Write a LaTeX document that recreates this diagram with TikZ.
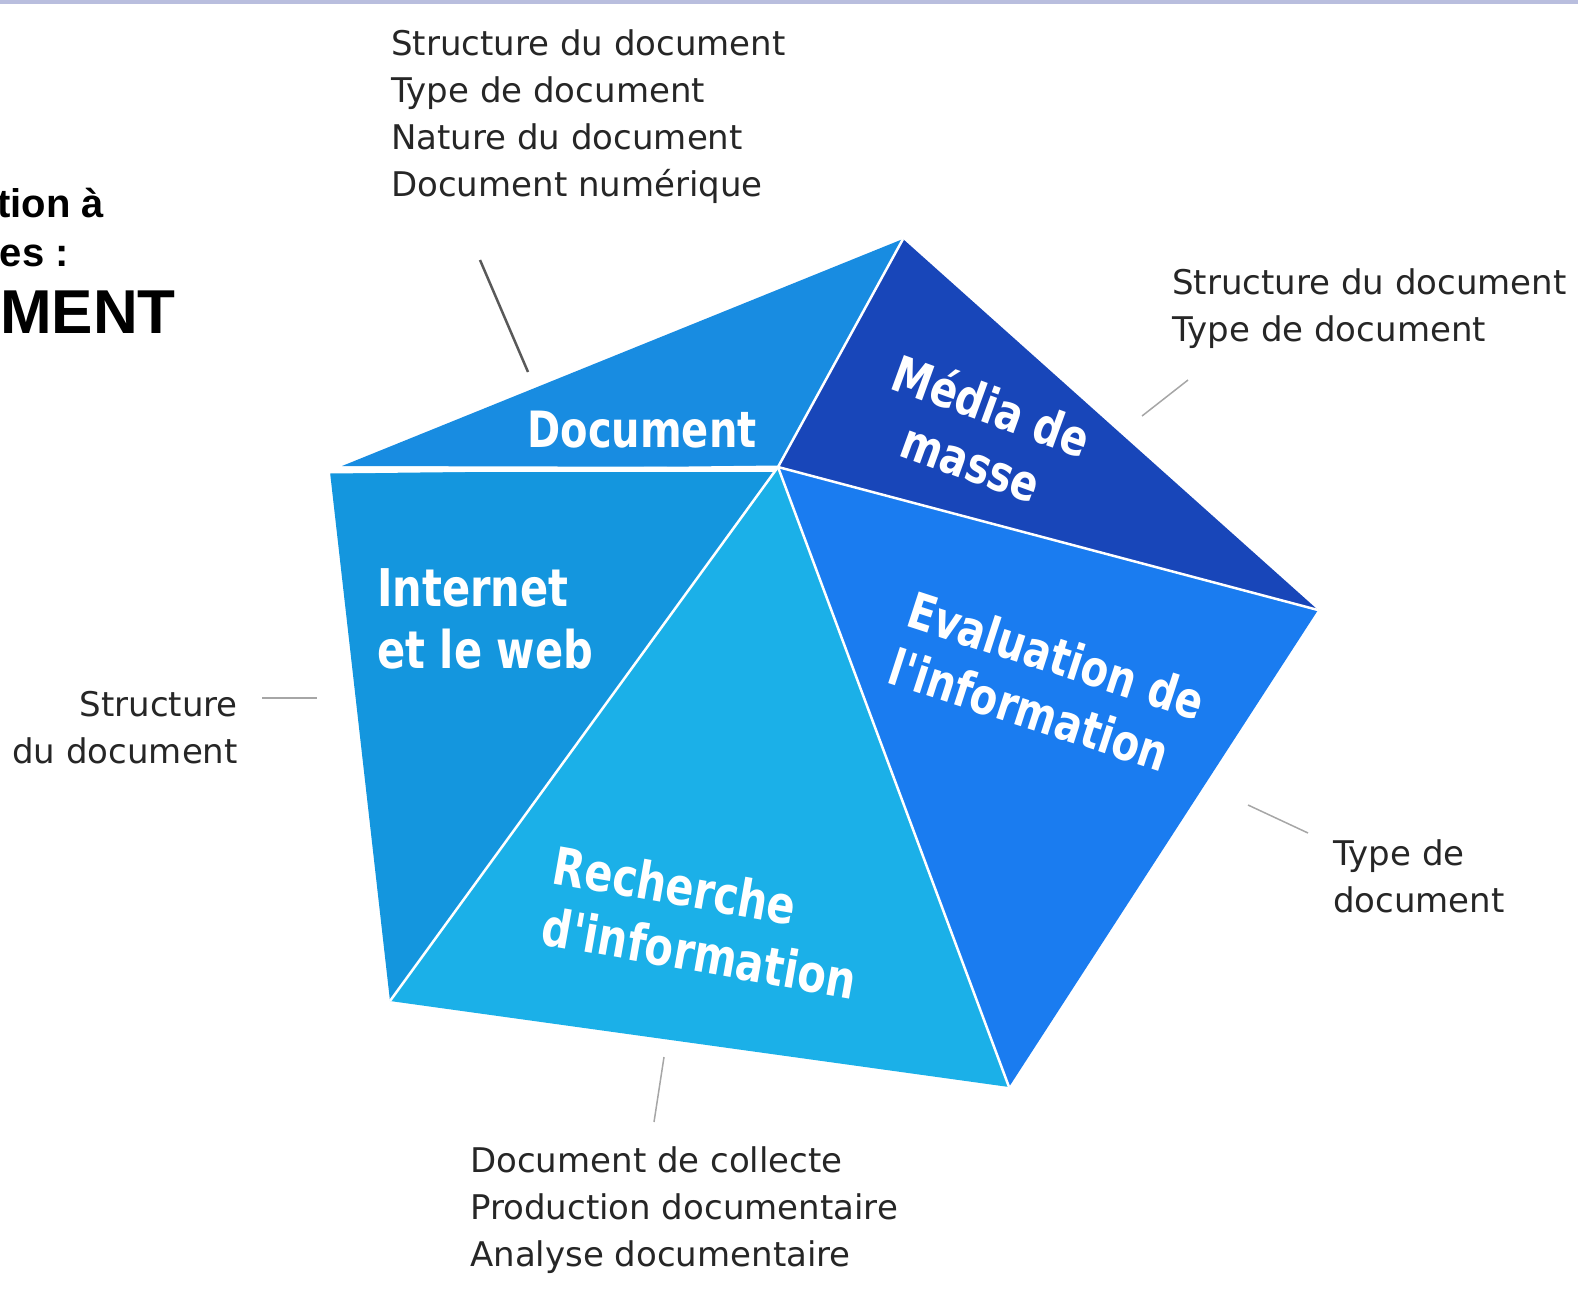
\documentclass[tikz,border=0pt]{standalone}
\usepackage{fontspec}
\setmainfont{DejaVu Sans}
\newfontfamily\titlefont{Liberation Sans}
\newfontfamily\facefont[FakeStretch=0.8]{DejaVu Sans}

\definecolor{barlav}{RGB}{185,190,222}
\definecolor{docblue}{RGB}{24,140,225}
\definecolor{mediablue}{RGB}{24,70,185}
\definecolor{evalblue}{RGB}{26,124,240}
\definecolor{rechblue}{RGB}{27,176,232}
\definecolor{webblue}{RGB}{20,150,222}

\begin{document}
\begin{tikzpicture}[x=1pt,y=-1pt,
  face/.style={text=white,font=\facefont\bfseries\fontsize{50}{60}\selectfont,inner sep=0pt,align=left},
  facebig/.style={face,font=\facefont\bfseries\fontsize{52}{62}\selectfont},
  lbl/.style={text=black!85,font=\fontsize{34}{47}\selectfont,inner sep=0pt,align=left},
  sep/.style={white,line width=2.5pt},
  lead/.style={black!35,line width=1.5pt}]
\useasboundingbox (0,0) rectangle (1578,1303);
\fill[barlav] (0,0) rectangle (1578,4);

% corners of the pentagon
\coordinate (T) at (903,239);
\coordinate (L) at (342,466);
\coordinate (C) at (778,467);
\coordinate (R) at (1318,610);
\coordinate (BR) at (1009,1087);
\coordinate (BL) at (390,1001);
\coordinate (WL) at (330,472);
\coordinate (WC) at (776,472);

\fill[docblue] (L) -- (T) -- (C) -- cycle;
\fill[mediablue] (T) -- (R) -- (C) -- cycle;
\fill[evalblue] (C) -- (R) -- (BR) -- cycle;
\fill[rechblue] (C) -- (BR) -- (BL) -- cycle;
\fill[webblue] (WL) -- (WC) -- (C) -- (BL) -- cycle;

\draw[sep] (C) -- (T);
\draw[sep] (C) -- (R);
\draw[sep] (C) -- (BR);
\draw[sep] (C) -- (BL);
\draw[white,line width=3pt] (WL) -- (C);

% labels on the faces
\node[face] (doc) at (642,430) {Document};
\node[face,rotate=-20,align=center] (media) at (982,433) {Média de\\masse};
\node[face,rotate=-18] (eval) at (1047,684) {Evaluation de\\l'information};
\node[facebig,rotate=-10] (rech) at (705,922) {Recherche\\d'information};
\node[facebig,anchor=west] (web) at (377,619) {Internet\\et le web};

% outside labels
\node[lbl,anchor=west] (ldoc) at (391,117) {Structure du document\\Type de document\\Nature du document\\Document numérique};
\node[lbl,anchor=west] (lmedia) at (1172,309) {Structure du document\\Type de document};
\node[lbl,anchor=east,align=right] (lweb) at (238,728) {Structure\\du document};
\node[lbl,anchor=west] (leval) at (1333,876) {Type de\\document};
\node[lbl,anchor=west] (lrech) at (470,1210) {Document de collecte\\Production documentaire\\Analyse documentaire};

% title cut at the left edge
\node[font=\titlefont\bfseries\fontsize{40}{48}\selectfont,anchor=base east,inner sep=0pt] (t1) at (104,217) {tion à};
\node[font=\titlefont\bfseries\fontsize{40}{48}\selectfont,anchor=base east,inner sep=0pt] (t2) at (69,266) {es :};
\node[font=\titlefont\bfseries\fontsize{62}{70}\selectfont,anchor=base east,inner sep=0pt] (t3) at (176,333) {MENT};

% leader lines
\coordinate (a1) at (480,260);
\coordinate (a2) at (528,372);
\coordinate (b1) at (1188,380);
\coordinate (b2) at (1142,416);
\coordinate (c1) at (262,698);
\coordinate (c2) at (317,698);
\coordinate (d1) at (1248,805);
\coordinate (d2) at (1308,833);
\coordinate (e1) at (664,1057);
\coordinate (e2) at (654,1122);
\draw[black!65,line width=2.5pt] (a1) -- (a2);
\draw[lead] (b1) -- (b2);
\draw[lead] (c1) -- (c2);
\draw[lead] (d1) -- (d2);
\draw[lead] (e1) -- (e2);
\end{tikzpicture}
\end{document}
